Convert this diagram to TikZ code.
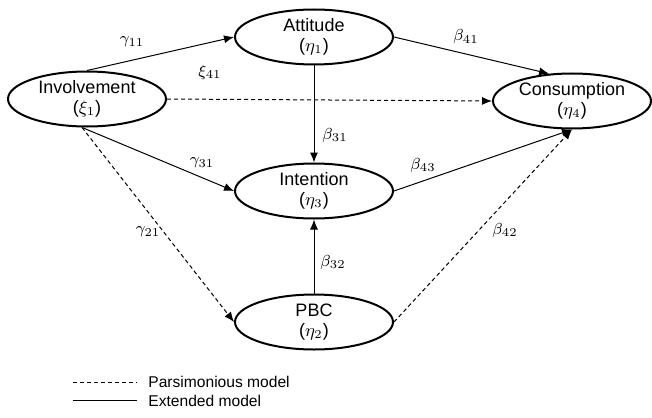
\documentclass[tikz,border=0pt]{standalone}
\usepackage{fontspec}
\setmainfont{Liberation Sans}
\usetikzlibrary{shapes.geometric,arrows.meta}
\tikzset{
  construct/.style={ellipse, draw, line width=1pt, minimum width=79pt, minimum height=27.5pt,
    inner sep=0pt, align=center, font=\fontsize{9}{10}\selectfont},
  link/.style={->, line width=0.5pt},
  parsim/.style={link, dash pattern=on 2pt off 1.5pt},
  coef/.style={font=\fontsize{8}{9}\selectfont, inner sep=1pt},
  legendtxt/.style={anchor=west, inner sep=1pt, font=\fontsize{7.8}{9}\selectfont}
}
\begin{document}
\begin{tikzpicture}[x=0.5pt, y=-0.5pt, >={Latex[length=5pt,width=4pt]}]
    \useasboundingbox (0,0) rectangle (652,417);
    % constructs
    \node[construct] (inv) at (87,99) {Involvement\\($\xi_1$)};
    \node[construct] (att) at (314,37) {Attitude\\($\eta_1$)};
    \node[construct] (int) at (314,191) {Intention\\($\eta_3$)};
    \node[construct] (pbc) at (314,322) {PBC\\($\eta_2$)};
    \node[construct] (con) at (572,101) {Consumption\\($\eta_4$)};
    % paths
    \draw[link] (inv.north) -- (att.west);
    \draw[link] (att.east) -- (con.130);
    \draw[parsim] (inv.east) -- (con.west);
    \draw[link] (att.south) -- (int.north);
    \draw[link] (inv.260) -- (int.west);
    \draw[parsim] (inv.260) -- (pbc.west);
    \draw[link] (pbc.north) -- (int.south);
    \draw[link] (int.east) -- (con.south);
    \draw[parsim] (pbc.east) -- (con.south);
    % coefficients
    \node[coef] (g11) at (132,42) {$\gamma_{11}$};
    \node[coef] (x41) at (210,72) {$\xi_{41}$};
    \node[coef] (b41) at (466,37) {$\beta_{41}$};
    \node[coef] (b31) at (335,135) {$\beta_{31}$};
    \node[coef] (g31) at (202,163) {$\gamma_{31}$};
    \node[coef] (b43) at (423,165) {$\beta_{43}$};
    \node[coef] (g21) at (148,232) {$\gamma_{21}$};
    \node[coef] (b42) at (505,230) {$\beta_{42}$};
    \node[coef] (b32) at (333,262) {$\beta_{32}$};
    % legend
    \coordinate (dashA) at (73,382);
    \coordinate (dashB) at (137,382);
    \coordinate (solA) at (73,400);
    \coordinate (solB) at (137,400);
    \draw[line width=0.5pt, dash pattern=on 2pt off 1.5pt] (dashA) -- (dashB);
    \draw[line width=0.5pt] (solA) -- (solB);
    \node[legendtxt] (parsimtxt) at (146,382) {Parsimonious model};
    \node[legendtxt] (extendtxt) at (146,401) {Extended model};
\end{tikzpicture}
\end{document}
